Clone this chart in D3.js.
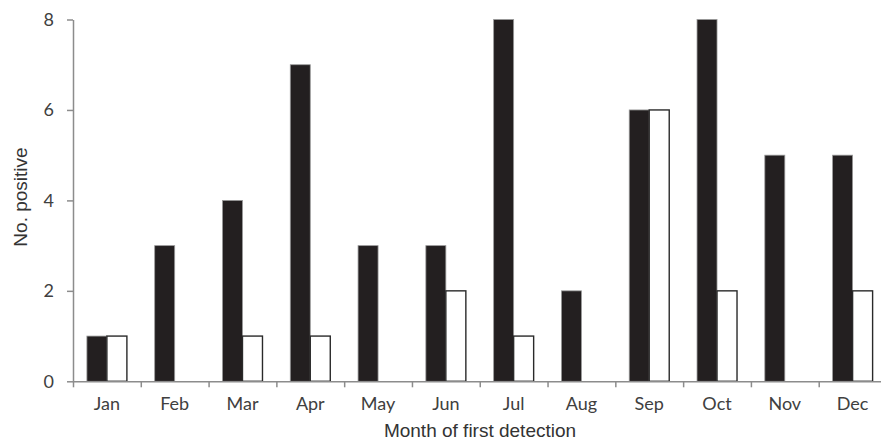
<!DOCTYPE html>
<html>
<head>
<meta charset="utf-8">
<script src="https://cdn.jsdelivr.net/npm/d3@7"></script>
<style>
  html, body { margin: 0; padding: 0; background: #fff; }
  svg { display: block; }
</style>
</head>
<body>
<svg id="chart" width="881" height="440"></svg>
<script>
// Monthly counts of positive detections, two groups per month
const months = ["Jan","Feb","Mar","Apr","May","Jun","Jul","Aug","Sep","Oct","Nov","Dec"];
const solidCounts = [1, 3, 4, 7, 3, 3, 8, 2, 6, 8, 5, 5];
const openCounts  = [1, 0, 1, 1, 0, 2, 1, 0, 6, 2, 0, 2];
const yTicks = [0, 2, 4, 6, 8];

const svg = d3.select("#chart");
const plotLeft = 73, plotRight = 886.5, plotTop = 19.5, plotBottom = 381.3;
const axisColor = "#8c8c8c";
const textColor = "#404040";

const x = d3.scaleBand().domain(months).range([plotLeft, plotRight]).padding(0);
const xEdge = d3.scaleLinear().domain([0, months.length]).range([plotLeft, plotRight]);
const y = d3.scaleLinear().domain([0, 8]).range([plotBottom, plotTop]);
const sub = d3.scaleBand().domain(["solid", "open"])
  .range([x.bandwidth() * 0.205, x.bandwidth() * 0.795]).padding(0);

const rows = months.map((m, i) => ({ month: m, solid: solidCounts[i], open: openCounts[i] }));

// Bars
const groups = svg.append("g").selectAll("g").data(rows).join("g")
  .attr("transform", d => `translate(${x(d.month)},0)`);

groups.append("rect")
  .attr("x", sub("solid"))
  .attr("width", sub.bandwidth())
  .attr("y", d => y(d.solid))
  .attr("height", d => y(0) - y(d.solid))
  .attr("fill", "#231f20")
  .attr("stroke", "#9a9a9a")
  .attr("stroke-width", 0.8);

groups.filter(d => d.open > 0).append("rect")
  .attr("x", sub("open"))
  .attr("width", sub.bandwidth())
  .attr("y", d => y(d.open))
  .attr("height", d => y(0) - y(d.open))
  .attr("fill", "#ffffff")
  .attr("stroke", "#2a2a2a")
  .attr("stroke-width", 1.4);

// Y axis
const yAxis = svg.append("g")
  .attr("transform", `translate(${plotLeft},0)`)
  .call(d3.axisLeft(y).tickValues(yTicks).tickSize(6).tickSizeOuter(0).tickPadding(13));
yAxis.select(".domain").attr("stroke", axisColor).attr("stroke-width", 1.5);
yAxis.selectAll(".tick line").attr("stroke", axisColor).attr("stroke-width", 1.5);
yAxis.selectAll(".tick text")
  .attr("fill", textColor)
  .style("font-family", "Lato, 'Open Sans', sans-serif")
  .style("font-size", "18px");

// X axis: boundary ticks between months
const xTicksAxis = svg.append("g")
  .attr("transform", `translate(0,${plotBottom})`)
  .call(d3.axisBottom(xEdge).tickValues(d3.range(0, months.length + 1)).tickSize(6).tickSizeOuter(0).tickFormat(""));
xTicksAxis.select(".domain").attr("stroke", axisColor).attr("stroke-width", 1.5);
xTicksAxis.selectAll(".tick line").attr("stroke", axisColor).attr("stroke-width", 1.5);

// X axis: month labels at band centres
const xLabels = svg.append("g")
  .attr("transform", `translate(0,${plotBottom})`)
  .call(d3.axisBottom(x).tickSize(0).tickSizeOuter(0));
xLabels.select(".domain").remove();
xLabels.selectAll(".tick text")
  .attr("y", 29)
  .attr("dy", 0)
  .attr("fill", textColor)
  .style("font-family", "Lato, 'Open Sans', sans-serif")
  .style("font-size", "18px");

// Axis titles
svg.append("text")
  .attr("x", 480)
  .attr("y", 437)
  .attr("text-anchor", "middle")
  .attr("fill", "#333")
  .style("font-family", "'Liberation Sans', Arial, sans-serif")
  .style("font-size", "19px")
  .text("Month of first detection");

svg.append("text")
  .attr("transform", "translate(27,197) rotate(-90)")
  .attr("text-anchor", "middle")
  .attr("fill", "#333")
  .style("font-family", "'Liberation Sans', Arial, sans-serif")
  .style("font-size", "19px")
  .text("No. positive");
</script>
</body>
</html>
